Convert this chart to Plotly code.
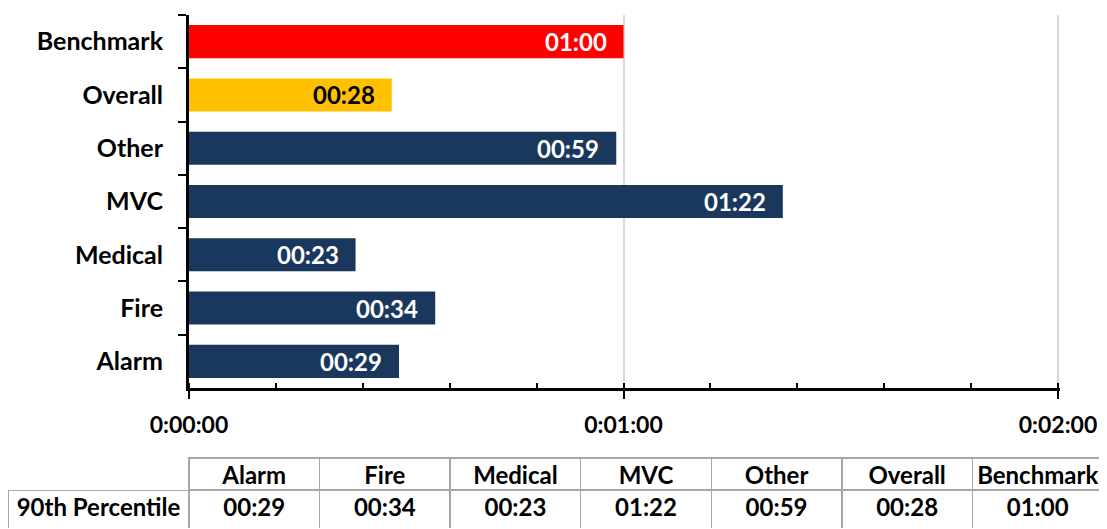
"""90th percentile response time by incident type, with a summary table."""

import plotly.graph_objects as go

# ---------------------------------------------------------------------------
# Data
# ---------------------------------------------------------------------------

categories = ["Alarm", "Fire", "Medical", "MVC", "Other", "Overall", "Benchmark"]
seconds = [29, 34, 23, 82, 59, 28, 60]
x_tickvals = [0, 60, 120]
x_ticktext = ["0:00:00", "0:01:00", "0:02:00"]
row_label = "90th Percentile"

labels = [f"{s // 60:02d}:{s % 60:02d}" for s in seconds]

# ---------------------------------------------------------------------------
# Styling
# ---------------------------------------------------------------------------

_NAVY = "#1a375e"
_HIGHLIGHT = {"Benchmark": "#ff0000", "Overall": "#ffc000"}
_LABEL_DARK = {"Overall"}
_FONT = "Lato"
_BORDER = "#a6a6a6"
# plotly drops gridlines within 1px of the axis end, so pad the range a little
# and widen the domain by the same amount to keep 0:02:00 where it belongs
_X_RANGE = [0, 120.3]
_X_DOMAIN = [0.1653, 0.96089]

bar_colors = [_HIGHLIGHT.get(c, _NAVY) for c in categories]

fig = go.Figure()
fig.add_trace(
    go.Bar(
        x=seconds,
        y=categories,
        orientation="h",
        marker={"color": bar_colors, "line": {"width": 0}},
        hoverinfo="skip",
        showlegend=False,
    )
)

# value labels inside the bar ends
for cat, sec, lab in zip(categories, seconds, labels):
    fig.add_annotation(
        x=sec,
        y=cat,
        text=lab,
        showarrow=False,
        xanchor="right",
        yanchor="middle",
        xshift=-15,
        font={
            "family": _FONT,
            "size": 24,
            "weight": "bold",
            "color": "black" if cat in _LABEL_DARK else "white",
        },
    )

# summary table under the chart (nbsp keeps the row label on one line)
table_font = {"family": _FONT, "size": 24, "weight": "bold", "color": "black"}
fig.add_trace(
    go.Table(
        domain={"x": [0, 1], "y": [0, 0.1381]},
        columnwidth=[181] + [130.6] * len(categories),
        header={
            "values": [""] + categories,
            "align": "center",
            "height": 32,
            "fill": {"color": "white"},
            "line": {"color": ["rgba(0,0,0,0)"] + [_BORDER] * len(categories), "width": 1.5},
            "font": table_font,
        },
        cells={
            "values": [[row_label.replace(" ", "\u00a0")]] + [[lab] for lab in labels],
            "align": "center",
            "height": 39,
            "fill": {"color": "white"},
            "line": {"color": _BORDER, "width": 1.5},
            "font": table_font,
        },
    )
)

axis_font = {"family": _FONT, "size": 25, "weight": "bold", "color": "black"}

# the page body adds an 8px margin, so the figure is 8px smaller than the window
fig.update_layout(
    width=1099,
    height=521,
    margin={"l": 0, "r": 4, "t": 7, "b": 0, "autoexpand": False},
    paper_bgcolor="white",
    plot_bgcolor="white",
    bargap=0.38,
    xaxis={
        "domain": _X_DOMAIN,
        "range": _X_RANGE,
        "automargin": False,
        "tickvals": x_tickvals,
        "ticktext": x_ticktext,
        "ticks": "outside",
        "ticklen": 8,
        "tickwidth": 2,
        "tickcolor": "black",
        "ticklabelstandoff": 6,
        "tickfont": {**axis_font, "size": 23},
        "showline": True,
        "linecolor": "black",
        "linewidth": 3,
        "showgrid": True,
        "gridcolor": "#d9d9d9",
        "gridwidth": 2,
        "zeroline": False,
        "minor": {
            "dtick": 12,
            "tick0": 0,
            "ticks": "inside",
            "ticklen": 5,
            "tickwidth": 2,
            "tickcolor": "black",
            "showgrid": False,
        },
        "fixedrange": True,
    },
    xaxis2={
        "overlaying": "x",
        "anchor": "y",
        "domain": _X_DOMAIN,
        "range": _X_RANGE,
        "automargin": False,
        "tickvals": x_tickvals,
        "ticks": "inside",
        "ticklen": 8,
        "tickwidth": 2,
        "tickcolor": "black",
        "showticklabels": False,
        "showgrid": False,
        "showline": False,
        "zeroline": False,
    },
    yaxis={
        "domain": [0.2743, 1],
        "range": [-0.5, len(categories) - 0.5],
        "automargin": False,
        "type": "category",
        "categoryorder": "array",
        "categoryarray": categories,
        "tickson": "boundaries",
        "ticks": "outside",
        "ticklen": 8,
        "tickwidth": 2,
        "tickcolor": "black",
        "ticklabelstandoff": 18,
        "tickfont": axis_font,
        "showline": True,
        "linecolor": "black",
        "linewidth": 3,
        "showgrid": False,
        "zeroline": False,
        "fixedrange": True,
    },
    yaxis2={
        "overlaying": "y",
        "anchor": "x",
        "side": "left",
        "domain": [0.2743, 1],
        "range": [-0.5, len(categories) - 0.5],
        "automargin": False,
        "tickvals": [i - 0.5 for i in range(len(categories) + 1)],
        "ticks": "inside",
        "ticklen": 8,
        "tickwidth": 2,
        "tickcolor": "black",
        "showticklabels": False,
        "showgrid": False,
        "showline": False,
        "zeroline": False,
    },
)

fig.write_html("out.html")
